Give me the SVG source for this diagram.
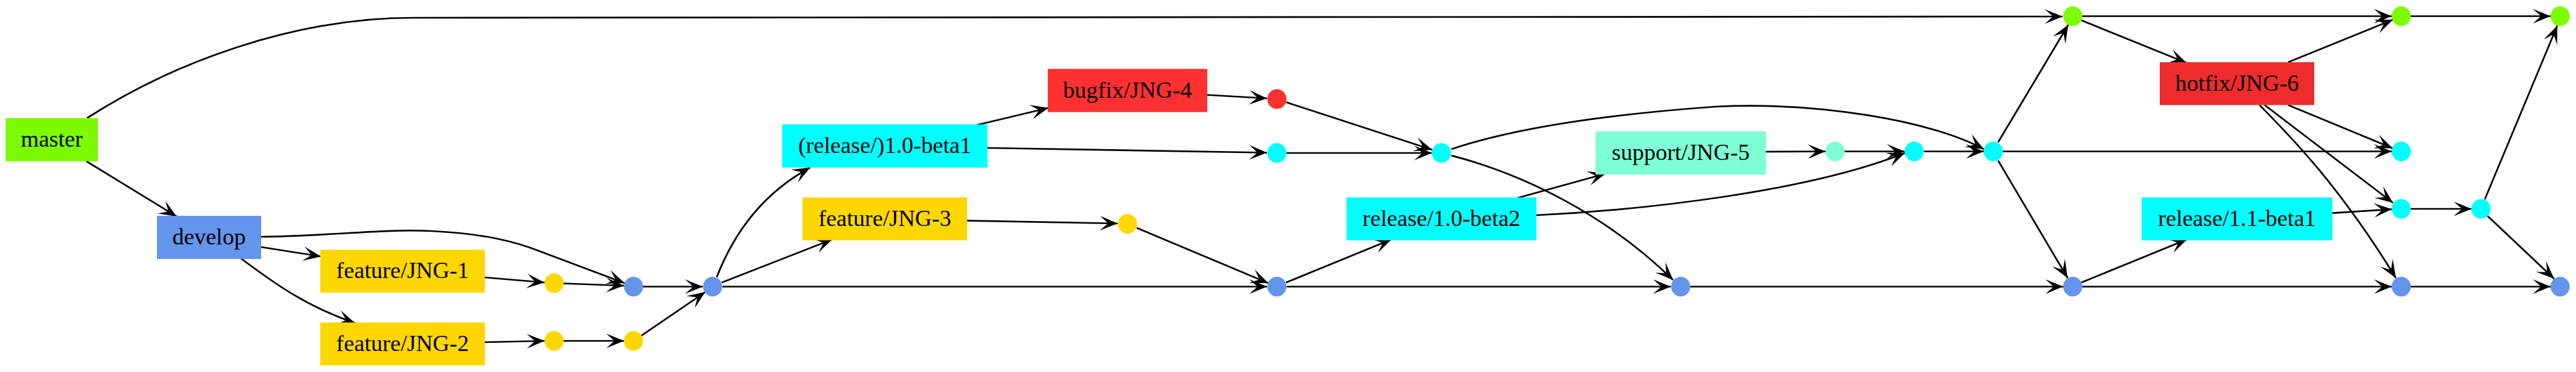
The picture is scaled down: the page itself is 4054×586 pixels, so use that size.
<svg xmlns="http://www.w3.org/2000/svg" width="4054" height="586" viewBox="0 0 4054 586">
<defs>
<style>
.lbl{font-family:"Liberation Serif","Times New Roman",serif;font-size:36.5px;fill:#000;text-anchor:middle}
.e{fill:none;stroke:#000;stroke-width:2.7;marker-end:url(#vee)}
.green{fill:#7CFC00}
.blue{fill:#6495ED}
.gold{fill:#FFD700}
.cyan{fill:#00FFFF}
.aqua{fill:#7FFFD4}
.red1{fill:#FF3030}
.red2{fill:#EE2C2C}
</style>
<marker id="vee" markerUnits="userSpaceOnUse" markerWidth="40" markerHeight="40" viewBox="-32 -20 40 40" refX="0" refY="0" orient="auto">
<path d="M0,0 L-28,-11.5 L-15,0 L-28,11.5 Z" fill="#000"/>
</marker>
</defs>
<rect width="4054" height="586" fill="#fff"/>
<g id="edges">
<path class="e" d="M137,186 C270,100 460,28 650,28 L3246,26"/>
<path class="e" d="M136,254 L278,341"/>
<path class="e" d="M410,373 C520,372 600,360 680,364 C760,368 810,380 850,396 L983,446"/>
<path class="e" d="M410,389 L505,404"/>
<path class="e" d="M379,407 C430,445 480,482 559,509"/>
<path class="e" d="M763,437 L857,445"/>
<path class="e" d="M887,446.5 L982,450"/>
<path class="e" d="M1012,451.5 L1106,451.5"/>
<path class="e" d="M763,539 L857,537"/>
<path class="e" d="M887,537 L982,537"/>
<path class="e" d="M1009,529 L1110,460"/>
<path class="e" d="M1128,436.5 C1150,380 1190,310 1275,264"/>
<path class="e" d="M1136,445 L1310,377"/>
<path class="e" d="M1137,451.5 L1994,451.5"/>
<path class="e" d="M1537,197 L1650,170"/>
<path class="e" d="M1554,233 L1994,240.5"/>
<path class="e" d="M1522,347.5 L1759,352"/>
<path class="e" d="M1789,359 L1996,446"/>
<path class="e" d="M1900,149.5 L1994,155"/>
<path class="e" d="M2024,161 L2254,236"/>
<path class="e" d="M2024.5,241 L2253.5,241"/>
<path class="e" d="M2284,235 C2400,196 2560,178 2700,168 C2860,160 3040,190 3122,235"/>
<path class="e" d="M2284,245 C2400,275 2530,340 2633,441"/>
<path class="e" d="M2024,445 L2190,377"/>
<path class="e" d="M2024.5,451.5 L2629.5,451.5"/>
<path class="e" d="M2387.5,312 L2527,273.5"/>
<path class="e" d="M2418,339 C2600,330 2850,300 2998,241"/>
<path class="e" d="M2779,239 L2873,238.5"/>
<path class="e" d="M2903,238.5 L2997.5,238.5"/>
<path class="e" d="M3027.5,238.5 L3122,238.5"/>
<path class="e" d="M3144.6,224 L3255,39"/>
<path class="e" d="M3144.6,253 L3254,438"/>
<path class="e" d="M3152,238.5 L3764,238.5"/>
<path class="e" d="M2660,451.5 L3247,451.5"/>
<path class="e" d="M3277,25.5 L3764,25.5"/>
<path class="e" d="M3275.6,32 L3441,99"/>
<path class="e" d="M3601,98 L3766,31"/>
<path class="e" d="M3794,25.5 L4014,25.5"/>
<path class="e" d="M3601,165.5 L3765.5,233.5"/>
<path class="e" d="M3564,165.5 L3766,319.5"/>
<path class="e" d="M3556,165.5 C3600,210 3680,290 3770.5,438"/>
<path class="e" d="M3670.5,335.6 L3764,329.6"/>
<path class="e" d="M3794,329 L3889.5,329"/>
<path class="e" d="M3910.5,314 L4024.5,40.5"/>
<path class="e" d="M3914.6,340 L4019.5,439"/>
<path class="e" d="M3275.6,445 L3442,377"/>
<path class="e" d="M3277,451.5 L3764,451.5"/>
<path class="e" d="M3794,451.5 L4014,451.5"/>
</g>
<g id="master"><rect class="green" x="9" y="186" width="145" height="68"/><text class="lbl" x="81.5" y="231">master</text></g>
<g id="develop"><rect class="blue" x="247" y="340" width="164" height="68"/><text class="lbl" x="329" y="385">develop</text></g>
<g id="feature-JNG-1"><rect class="gold" x="504" y="393.5" width="259" height="67.5"/><text class="lbl" x="633.5" y="438">feature/JNG-1</text></g>
<g id="feature-JNG-2"><rect class="gold" x="504" y="508" width="259" height="67.5"/><text class="lbl" x="633.5" y="553">feature/JNG-2</text></g>
<g id="release-1.0-beta1"><rect class="cyan" x="1231" y="196" width="323" height="68"/><text class="lbl" x="1392.5" y="241">(release/)1.0-beta1</text></g>
<g id="feature-JNG-3"><rect class="gold" x="1263" y="311" width="259" height="67.5"/><text class="lbl" x="1392.5" y="356">feature/JNG-3</text></g>
<g id="bugfix-JNG-4"><rect class="red1" x="1649" y="108.5" width="251" height="68"/><text class="lbl" x="1774.5" y="153.5">bugfix/JNG-4</text></g>
<g id="release-1.0-beta2"><rect class="cyan" x="2119" y="311" width="299" height="67.5"/><text class="lbl" x="2268.5" y="356">release/1.0-beta2</text></g>
<g id="support-JNG-5"><rect class="aqua" x="2511" y="207" width="268" height="68"/><text class="lbl" x="2645" y="252">support/JNG-5</text></g>
<g id="hotfix-JNG-6"><rect class="red2" x="3399" y="98" width="243" height="67.5"/><text class="lbl" x="3520.5" y="143">hotfix/JNG-6</text></g>
<g id="release-1.1-beta1"><rect class="cyan" x="3370.5" y="311" width="300" height="67.5"/><text class="lbl" x="3520.5" y="356">release/1.1-beta1</text></g>
<g id="c-y1"><ellipse class="gold" cx="872" cy="446" rx="15" ry="15.5"/></g>
<g id="c-y2"><ellipse class="gold" cx="872" cy="537" rx="15" ry="15.5"/></g>
<g id="c-y3"><ellipse class="gold" cx="997" cy="537" rx="15" ry="15.5"/></g>
<g id="c-ba"><ellipse class="blue" cx="997" cy="451.5" rx="15" ry="15.5"/></g>
<g id="c-bb"><ellipse class="blue" cx="1121.5" cy="451.5" rx="15" ry="15.5"/></g>
<g id="c-y4"><ellipse class="gold" cx="1774.5" cy="352.5" rx="15" ry="15.5"/></g>
<g id="c-r1"><ellipse class="red1" cx="2009.5" cy="156" rx="15" ry="15.5"/></g>
<g id="c-c1"><ellipse class="cyan" cx="2009.5" cy="241" rx="15" ry="15.5"/></g>
<g id="c-bc"><ellipse class="blue" cx="2009.5" cy="451.5" rx="15" ry="15.5"/></g>
<g id="c-c2"><ellipse class="cyan" cx="2268.5" cy="241" rx="15" ry="15.5"/></g>
<g id="c-bd"><ellipse class="blue" cx="2645" cy="451.5" rx="15" ry="15.5"/></g>
<g id="c-m1"><ellipse class="aqua" cx="2888" cy="238.5" rx="15" ry="15.5"/></g>
<g id="c-c3"><ellipse class="cyan" cx="3012.5" cy="238.5" rx="15" ry="15.5"/></g>
<g id="c-c4"><ellipse class="cyan" cx="3137" cy="238.5" rx="15" ry="15.5"/></g>
<g id="c-g1"><ellipse class="green" cx="3262" cy="25.5" rx="15" ry="15.5"/></g>
<g id="c-be"><ellipse class="blue" cx="3262" cy="451.5" rx="15" ry="15.5"/></g>
<g id="c-g2"><ellipse class="green" cx="3779" cy="25.5" rx="15" ry="15.5"/></g>
<g id="c-c5"><ellipse class="cyan" cx="3779" cy="238.5" rx="15" ry="15.5"/></g>
<g id="c-c6"><ellipse class="cyan" cx="3779" cy="329" rx="15" ry="15.5"/></g>
<g id="c-bf"><ellipse class="blue" cx="3779" cy="451.5" rx="15" ry="15.5"/></g>
<g id="c-c7"><ellipse class="cyan" cx="3904.5" cy="329" rx="15" ry="15.5"/></g>
<g id="c-g3"><ellipse class="green" cx="4029" cy="25.5" rx="15" ry="15.5"/></g>
<g id="c-bg"><ellipse class="blue" cx="4029" cy="451.5" rx="15" ry="15.5"/></g>
</svg>
